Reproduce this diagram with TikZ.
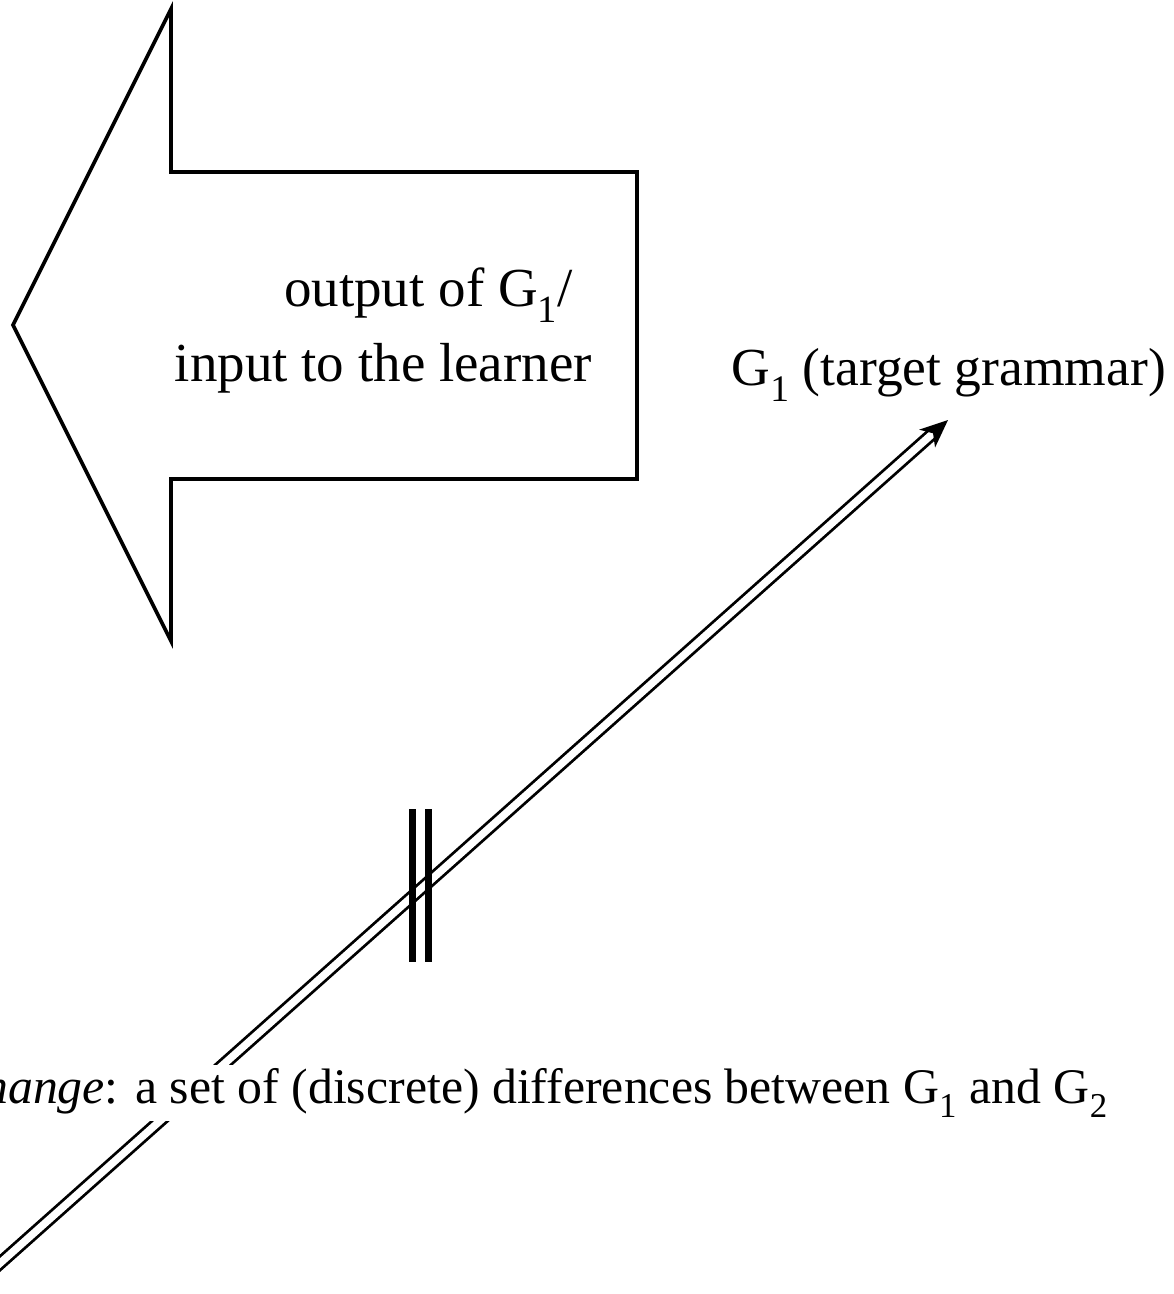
\documentclass[tikz,border=0pt]{standalone}
\usepackage{fontspec}
\setmainfont{Liberation Serif}
\usetikzlibrary{calc}
\begin{document}
\begin{tikzpicture}[x=1pt,y=-1pt,
  outline/.style={draw=black, line width=3.6pt, line join=miter, miter limit=20},
  dline/.style={draw=black, line width=2.8pt, double=white, double distance=7.5pt},
  barline/.style={draw=black, line width=7pt},
  lbl/.style={font=\fontsize{55}{66}\selectfont, inner sep=0pt},
  lblmid/.style={font=\fontsize{53.5}{64}\selectfont, inner sep=0pt},
  lblsmall/.style={font=\fontsize{49.8}{60}\selectfont, inner sep=0pt},
]
\useasboundingbox (0,0) rectangle (1174,1294);
% big outlined arrow
\draw[outline] (13,325) -- (171,9) -- (171,172) -- (637,172) -- (637,479) -- (171,479) -- (171,641) -- cycle;
% double connector
\coordinate (tail) at (-20,1281);
\coordinate (tip) at (948,420);
\coordinate (hb) at ($(tip)!28pt!(tail)$);
\coordinate (hi) at ($(tip)!20pt!(tail)$);
\coordinate (hl) at ($(hb)!12pt!90:(tip)$);
\coordinate (hr) at ($(hb)!12pt!-90:(tip)$);
\draw[dline] (tail) -- (hi);
\fill (tip) -- (hl) -- (hi) -- (hr) -- cycle;
% double bars
\coordinate (b1t) at (412,809);
\coordinate (b1b) at (412,962);
\coordinate (b2t) at (428,809);
\coordinate (b2b) at (428,962);
\draw[barline] (b1t) -- (b1b);
\draw[barline] (b2t) -- (b2b);
% labels
\node[lbl, anchor=base east] (out1) at (573,306) {output of G\textsubscript{1}/};
\node[lbl, anchor=base east] (out2) at (592,381) {input to the learner};
\node[lblmid, anchor=base east] (g1) at (1166,385) {G\textsubscript{1} (target grammar)};
\node[lblsmall, anchor=base east, fill=white, inner sep=3pt] (chg) at (1111,1103) {\textit{change}: a set of (discrete) differences between G\textsubscript{1} and G\textsubscript{2}};
\end{tikzpicture}
\end{document}
